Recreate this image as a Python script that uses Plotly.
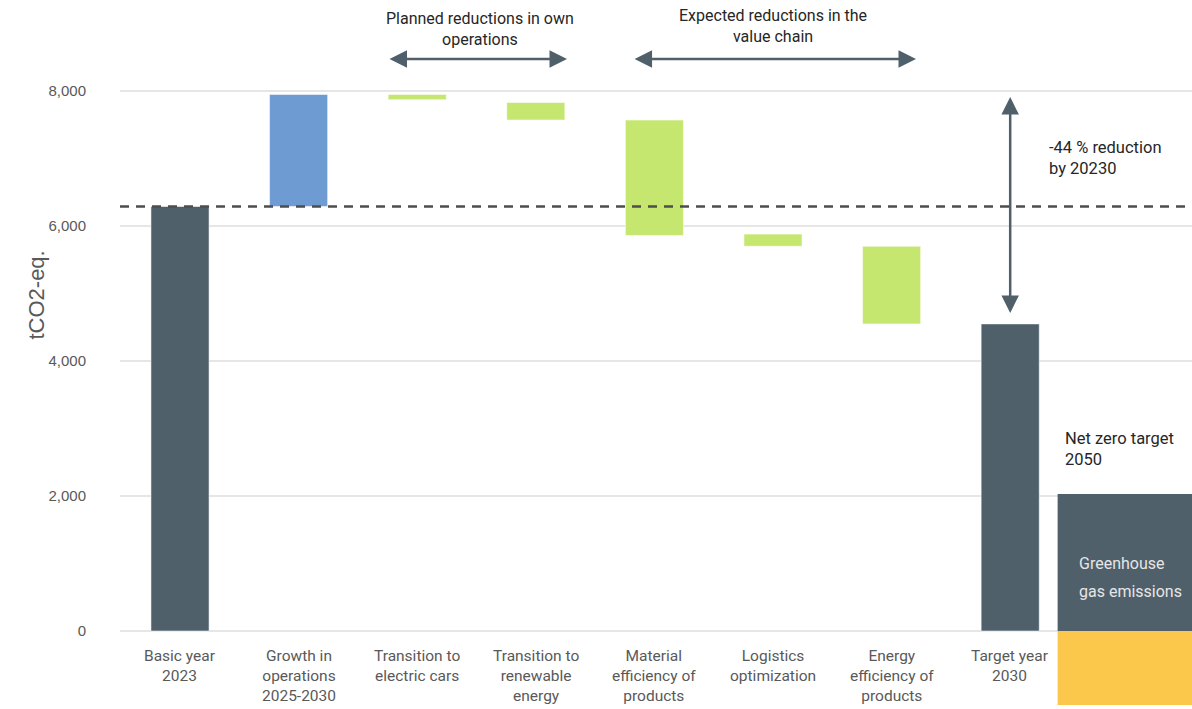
import plotly.graph_objects as go

# ---------------- data ----------------
categories = ["Basic year<br>2023", "Growth in<br>operations<br>2025-2030",
              "Transition to<br>electric cars", "Transition to<br>renewable<br>energy",
              "Material<br>efficiency of<br>products", "Logistics<br>optimization",
              "Energy<br>efficiency of<br>products", "Target year<br>2030", "Net zero 2050"]

total_cats = ["Basic year<br>2023", "Target year<br>2030"]
total_vals = [6290, 4550]

increase_cats = ["Growth in<br>operations<br>2025-2030"]
increase_bottom = [6290]
increase_top = [7950]

decrease_cats = ["Transition to<br>electric cars", "Transition to<br>renewable<br>energy",
                 "Material<br>efficiency of<br>products", "Logistics<br>optimization",
                 "Energy<br>efficiency of<br>products"]
decrease_top = [7950, 7830, 7570, 5880, 5700]
decrease_bottom = [7870, 7570, 5860, 5700, 4550]

netzero_cat = ["Net zero 2050"]
netzero_emissions = [2030]
netzero_removals = [-1100]

baseline_value = 6290
y_ticks = [0, 2000, 4000, 6000, 8000]

DARK = "#4f606b"
BLUE = "#6f9bd3"
GREEN = "#c5e76f"
YELLOW = "#fcc84b"
GREY_TXT = "#595959"
TXT = "#262626"
FONT = "Roboto"

fig = go.Figure()
outline = dict(color="rgba(255,255,255,0.55)", width=1)

fig.add_trace(go.Bar(x=total_cats, y=total_vals, marker=dict(color=DARK, line=outline),
                     width=0.49, hoverinfo="skip"))
fig.add_trace(go.Bar(x=increase_cats, base=increase_bottom,
                     y=[t - b for t, b in zip(increase_top, increase_bottom)],
                     marker=dict(color=BLUE, line=outline), width=0.49, hoverinfo="skip"))
fig.add_trace(go.Bar(x=decrease_cats, base=decrease_bottom,
                     y=[t - b for t, b in zip(decrease_top, decrease_bottom)],
                     marker=dict(color=GREEN, line=outline), width=0.49, hoverinfo="skip"))
fig.add_trace(go.Bar(x=netzero_cat, y=netzero_emissions, marker=dict(color=DARK, line=dict(width=0)),
                     width=1.2, hoverinfo="skip"))
fig.add_trace(go.Bar(x=netzero_cat, y=netzero_removals, marker=dict(color=YELLOW, line=dict(width=0)),
                     width=1.2, hoverinfo="skip"))

# baseline axis line at 0 and dashed baseline
fig.add_shape(type="line", xref="paper", x0=0, x1=1, y0=0, y1=0,
              line=dict(color="#a6a6a6", width=2), layer="below")
fig.add_shape(type="line", xref="paper", x0=0, x1=1, y0=baseline_value, y1=baseline_value,
              line=dict(color="#4d4d4d", width=2.5, dash="9px,7px"), layer="above")

ann = []
# category labels
for i, c in enumerate(categories[:-1]):
    ann.append(dict(x=c, y=0, xref="x", yref="y", text=c, showarrow=False,
                    yanchor="top", yshift=-14, align="center",
                    font=dict(family=FONT, size=15.5, color=GREY_TXT)))

# y axis title
ann.append(dict(x=-0.0914, y=0.5985, xref="paper", yref="paper", text="tCO2-eq.", showarrow=False,
                textangle=-90, font=dict(family="Liberation Sans", size=22, color=GREY_TXT)))

# group headers and arrows
ann.append(dict(x=2.53, y=8920, xref="x", yref="y", text="Planned reductions in own<br>operations",
                showarrow=False, font=dict(family=FONT, size=16, color=TXT)))
ann.append(dict(x=5.0, y=8970, xref="x", yref="y", text="Expected reductions in the<br>value chain",
                showarrow=False, font=dict(family=FONT, size=16, color=TXT)))
for x0, x1 in [(1.754, 3.263), (3.82, 6.206)]:
    ann.append(dict(x=x1, y=8474, ax=x0, ay=8474, xref="x", yref="y", axref="x", ayref="y",
                    text="", showarrow=True, arrowside="end+start", arrowhead=2,
                    arrowsize=1.4, arrowwidth=2.5, arrowcolor=DARK))

# vertical reduction arrow
ann.append(dict(x=7.0, y=7910, ax=7.0, ay=4690, xref="x", yref="y", axref="x", ayref="y",
                text="", showarrow=True, arrowside="end+start", arrowhead=2,
                arrowsize=1.4, arrowwidth=2.5, arrowcolor=DARK))
ann.append(dict(x=7.31, y=7010, xref="x", yref="y", text="-44 % reduction<br>by 20230",
                showarrow=False, xanchor="left", align="left",
                font=dict(family=FONT, size=16.5, color=TXT)))
ann.append(dict(x=7.445, y=2700, xref="x", yref="y", text="Net zero target<br>2050",
                showarrow=False, xanchor="left", align="left",
                font=dict(family=FONT, size=16.5, color=TXT)))
ann.append(dict(x=7.563, y=1003, xref="x", yref="y", text="Greenhouse",
                showarrow=False, xanchor="left", align="left",
                font=dict(family=FONT, size=16, color="#e6e6e6")))
ann.append(dict(x=7.563, y=588, xref="x", yref="y", text="gas emissions",
                showarrow=False, xanchor="left", align="left",
                font=dict(family=FONT, size=16, color="#e6e6e6")))

fig.update_layout(
    width=1192, height=709,
    margin=dict(l=120, r=0, t=20, b=4),
    paper_bgcolor="white", plot_bgcolor="white",
    barmode="overlay", showlegend=False,
    annotations=ann,
    xaxis=dict(type="category", categoryorder="array", categoryarray=categories,
               range=[-0.506, 8.533], showticklabels=False, showgrid=False,
               zeroline=False, showline=False, ticks=""),
    yaxis=dict(range=[-1096, 9052], tickvals=y_ticks, tickformat=",",
               showgrid=True, gridcolor="#e6e6e6", gridwidth=1.5, zeroline=False,
               showline=False, ticks="outside", ticklen=30, tickcolor="rgba(0,0,0,0)",
               tickfont=dict(family="Liberation Sans", size=15, color=GREY_TXT)),
)

fig.write_html("out.html")
